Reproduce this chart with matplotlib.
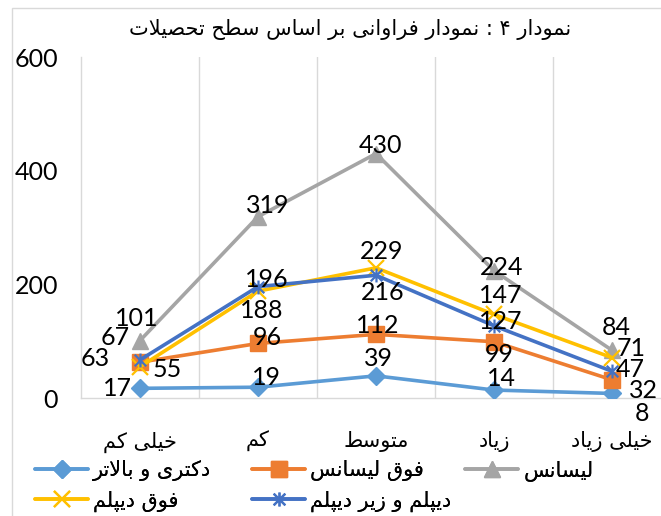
import matplotlib
matplotlib.use("Agg")
import matplotlib.pyplot as plt
from matplotlib.path import Path
from matplotlib.patches import Rectangle
from matplotlib import font_manager
from matplotlib.ft2font import FT2Font

# ---------------- data ----------------
categories = ["خیلی کم", "کم", "متوسط", "زیاد", "خیلی زیاد"]
series_names = ["دکتری و بالاتر", "فوق لیسانس", "لیسانس", "فوق دیپلم", "دیپلم و زیر دیپلم"]
doctorate = [17, 19, 39, 14, 8]
masters = [63, 96, 112, 99, 32]
bachelors = [101, 319, 430, 224, 84]
associate = [55, 188, 229, 147, 71]
diploma = [67, 196, 216, 127, 47]
title_text = "نمودار ۴ : نمودار فراوانی بر اساس سطح تحصیلات"
y_ticks = [0, 200, 400, 600]

# ---------------- styles ----------------
colors = ["#5B9BD5", "#ED7D31", "#A5A5A5", "#FFC000", "#4472C4"]
star_path = Path([(-1, -1), (1, 1), (-1, 1), (1, -1), (0, -1.2), (0, 1.2)],
                 [Path.MOVETO, Path.LINETO, Path.MOVETO, Path.LINETO, Path.MOVETO, Path.LINETO])
markers = ["D", "s", "^", "x", star_path]
msizes = [9, 11, 11, 11, 10]
# label offsets in pixels (dx, dy) per point
label_off = [
    [(-23, 0), (8, 10), (2, 17), (7, 12), (30, -20)],
    [(-45, 4), (9, 6), (2, 9), (5, -13), (31, -11)],
    [(-3, 22), (10, 11), (4, 8), (8, 3), (4, 23)],
    [(27, -3), (4, -19), (6, 16), (7, 19), (19, 9)],
    [(-25, 22), (9, 7), (7, -17), (7, 4), (18, 2)],
]

# ---------------- simple Arabic/Persian shaping ----------------
DUAL = set("بتثجحخسشصضطظعغفقکگلمنهیئپچ")
RIGHT = set("اآأإدذرزژوؤة")
JOINING = DUAL | RIGHT
FORMS = {
    "ا": (0xFE8D, 0xFE8E, None, None),
    "ب": (0xFE8F, 0xFE90, 0xFE91, 0xFE92),
    "ت": (0xFE95, 0xFE96, 0xFE97, 0xFE98),
    "ح": (0xFEA1, 0xFEA2, 0xFEA3, 0xFEA4),
    "خ": (0xFEA5, 0xFEA6, 0xFEA7, 0xFEA8),
    "د": (0xFEA9, 0xFEAA, None, None),
    "ر": (0xFEAD, 0xFEAE, None, None),
    "ز": (0xFEAF, 0xFEB0, None, None),
    "س": (0xFEB1, 0xFEB2, 0xFEB3, 0xFEB4),
    "ص": (0xFEB9, 0xFEBA, 0xFEBB, 0xFEBC),
    "ط": (0xFEC1, 0xFEC2, 0xFEC3, 0xFEC4),
    "ف": (0xFED1, 0xFED2, 0xFED3, 0xFED4),
    "ق": (0xFED5, 0xFED6, 0xFED7, 0xFED8),
    "ل": (0xFEDD, 0xFEDE, 0xFEDF, 0xFEE0),
    "م": (0xFEE1, 0xFEE2, 0xFEE3, 0xFEE4),
    "ن": (0xFEE5, 0xFEE6, 0xFEE7, 0xFEE8),
    "و": (0xFEED, 0xFEEE, None, None),
    "پ": (0xFB56, 0xFB57, 0xFB58, 0xFB59),
    "ک": (0xFB8E, 0xFB8F, 0xFB90, 0xFB91),
    "ی": (0xFBFC, 0xFBFD, 0xFBFE, 0xFBFF),
}
AR_FONT = "DejaVu Sans"
try:
    _cmap = FT2Font(font_manager.findfont(AR_FONT)).get_charmap()
except Exception:
    _cmap = {}


def _g(cp, base):
    if cp is not None and cp in _cmap:
        return chr(cp)
    return base


def shape(s):
    out = []
    n = len(s)
    i = 0
    while i < n:
        c = s[i]
        prev = s[i - 1] if i > 0 else ""
        nxt = s[i + 1] if i + 1 < n else ""
        cp = c in JOINING and prev in DUAL
        if c == "ل" and nxt == "ا":
            out.append(_g(0xFEFC if cp else 0xFEFB, "لا"))
            i += 2
            continue
        cn = c in DUAL and nxt in JOINING
        if c in FORMS:
            iso, fin, ini, med = FORMS[c]
            if cp and cn:
                ch = _g(med, c)
            elif cp:
                ch = _g(fin, c)
            elif cn:
                ch = _g(ini, c)
            else:
                ch = _g(iso, c)
        else:
            ch = c
        out.append(ch)
        i += 1
    return "".join(out)[::-1]


# ---------------- figure ----------------
W, H = 661, 516
fig = plt.figure(figsize=(W / 100, H / 100), dpi=100)
num_font = ["Lato", "DejaVu Sans"]
fa_font = [AR_FONT, "Noto Sans"]

# outer chart frame (extends beyond image on right/bottom)
fig.patches.append(Rectangle((12 / W, -0.2), 1.2, 1.2 - 8 / H, transform=fig.transFigure,
                             fill=False, edgecolor="#D9D9D9", lw=1.0))

ax = fig.add_axes([81 / W, 1 - 398 / H, 590 / W, 341 / H])
x = list(range(len(categories)))
all_series = [doctorate, masters, bachelors, associate, diploma]
handles = []
for k, vals in enumerate(all_series):
    (ln,) = ax.plot(x, vals, color=colors[k], lw=2.6, marker=markers[k], markersize=msizes[k],
                    markerfacecolor=colors[k], markeredgecolor=colors[k],
                    markeredgewidth=1.6 if k >= 3 else 1.0, zorder=3 + k, solid_capstyle="round")
    handles.append(ln)
    for j, v in enumerate(vals):
        dx, dy = label_off[k][j]
        ax.annotate(str(v), (x[j], v), xytext=(dx, dy), textcoords="offset pixels",
                    ha="center", va="center", fontsize=18, family=num_font, color="black",
                    zorder=20)

ax.set_xlim(-0.5, len(categories) - 0.5)
ax.set_ylim(0, 600)
ax.set_yticks(y_ticks)
ax.set_yticklabels([str(t) for t in y_ticks], fontsize=18, family=num_font)
ax.set_xticks(x)
ax.set_xticklabels([shape(c) for c in categories], fontsize=15, family=fa_font)
ax.tick_params(axis="both", length=0)
ax.tick_params(axis="y", pad=16.5)
ax.tick_params(axis="x", pad=24)
for xb in [i + 0.5 for i in range(len(categories) - 1)]:
    ax.axvline(xb, color="#D9D9D9", lw=1.0, zorder=0)
for side in ["top", "right"]:
    ax.spines[side].set_visible(False)
for side in ["left", "bottom"]:
    ax.spines[side].set_color("#D9D9D9")
    ax.spines[side].set_linewidth(1.0)
ax.set_facecolor("none")

fig.text(350 / W, 1 - 30 / H, shape(title_text), ha="center", va="center", fontsize=15,
         family=fa_font)

# legend in three columns
cols = [([0, 3], 35), ([1, 4], 252), ([2], 465)]
for idxs, xpx in cols:
    leg = fig.legend([handles[i] for i in idxs], [shape(series_names[i]) for i in idxs],
                     loc="upper left", bbox_to_anchor=(xpx / W, 1 - 460 / H),
                     frameon=False, borderaxespad=0, borderpad=0, handlelength=2.55,
                     handletextpad=0.25, labelspacing=0.45,
                     prop=font_manager.FontProperties(family=fa_font, size=15))
    fig.add_artist(leg)

fig.savefig("out.png", dpi=100)
